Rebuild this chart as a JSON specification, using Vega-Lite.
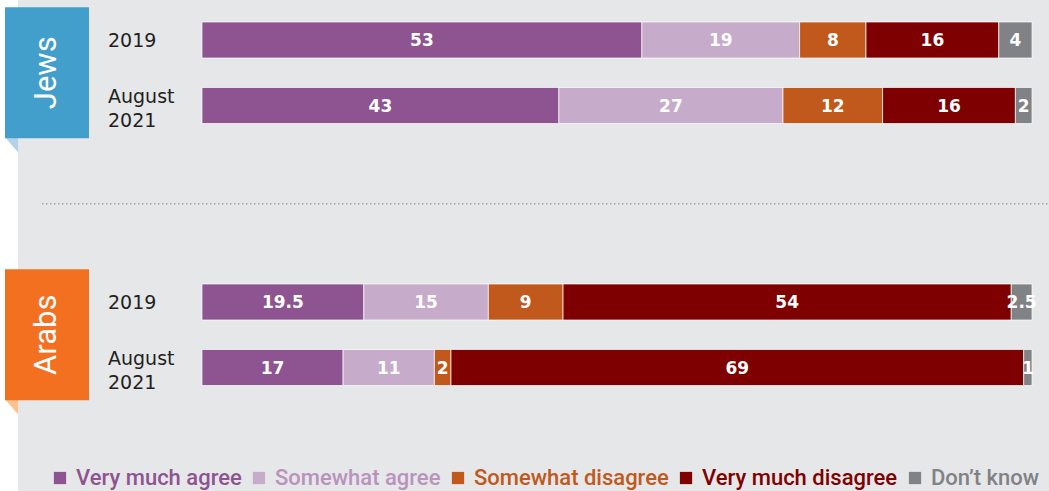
{
  "$schema": "https://vega.github.io/schema/vega-lite/v6.json",
  "width": 1049,
  "height": 491,
  "autosize": {"type": "fit", "contains": "padding"},
  "padding": 0,
  "background": "#e6e7e9",
  "config": {"view": {"stroke": null}},
  "data": {
    "values": [
      {"group": "Jews", "period": "2019", "answer": "Very much agree", "value": 53},
      {"group": "Jews", "period": "2019", "answer": "Somewhat agree", "value": 19},
      {"group": "Jews", "period": "2019", "answer": "Somewhat disagree", "value": 8},
      {"group": "Jews", "period": "2019", "answer": "Very much disagree", "value": 16},
      {"group": "Jews", "period": "2019", "answer": "Don’t know", "value": 4},
      {"group": "Jews", "period": "August 2021", "answer": "Very much agree", "value": 43},
      {"group": "Jews", "period": "August 2021", "answer": "Somewhat agree", "value": 27},
      {"group": "Jews", "period": "August 2021", "answer": "Somewhat disagree", "value": 12},
      {"group": "Jews", "period": "August 2021", "answer": "Very much disagree", "value": 16},
      {"group": "Jews", "period": "August 2021", "answer": "Don’t know", "value": 2},
      {"group": "Arabs", "period": "2019", "answer": "Very much agree", "value": 19.5},
      {"group": "Arabs", "period": "2019", "answer": "Somewhat agree", "value": 15},
      {"group": "Arabs", "period": "2019", "answer": "Somewhat disagree", "value": 9},
      {"group": "Arabs", "period": "2019", "answer": "Very much disagree", "value": 54},
      {"group": "Arabs", "period": "2019", "answer": "Don’t know", "value": 2.5},
      {"group": "Arabs", "period": "August 2021", "answer": "Very much agree", "value": 17},
      {"group": "Arabs", "period": "August 2021", "answer": "Somewhat agree", "value": 11},
      {"group": "Arabs", "period": "August 2021", "answer": "Somewhat disagree", "value": 2},
      {"group": "Arabs", "period": "August 2021", "answer": "Very much disagree", "value": 69},
      {"group": "Arabs", "period": "August 2021", "answer": "Don’t know", "value": 1}
    ]
  },
  "transform": [
    {"calculate": "indexof(['Very much agree','Somewhat agree','Somewhat disagree','Very much disagree','Don’t know'], datum.answer)", "as": "ord"},
    {"calculate": "datum.group + ' ' + datum.period", "as": "row"},
    {"stack": "value", "groupby": ["row"], "sort": [{"field": "ord", "order": "ascending"}], "as": ["v0", "v1"]},
    {"calculate": "(datum.v0 + datum.v1) / 2", "as": "mid"}
  ],
  "resolve": {"scale": {"y": "independent"}},
  "layer": [
    {
      "transform": [{"filter": "datum.row == 'Jews 2019' && datum.ord == 0"}],
      "mark": {"type": "rect", "color": "#ffffff"},
      "encoding": {
        "x": {"datum": -24.337, "type": "quantitative", "scale": {"domain": [-24.337, 102.048], "nice": false, "zero": false}, "axis": null},
        "x2": {"datum": -22.169}
      }
    },
    {
      "transform": [{"filter": "datum.period == '2019' && datum.ord == 0 && datum.group == 'Jews'"}],
      "mark": {"type": "point", "shape": "M -0.87 -1 L 0.87 -1 L 0.87 1 Z", "filled": true, "opacity": 1, "color": "#b4d3eb", "size": 225, "yOffset": 72},
      "encoding": {
        "x": {"datum": -22.95, "type": "quantitative"},
        "y": {"field": "group", "type": "nominal", "scale": {"domain": ["Jews", "gap", "Arabs"], "range": [7.25, 400.25], "paddingInner": 0, "paddingOuter": 0}, "axis": null}
      }
    },
    {
      "transform": [{"filter": "datum.period == '2019' && datum.ord == 0 && datum.group == 'Arabs'"}],
      "mark": {"type": "point", "shape": "M -0.87 -1 L 0.87 -1 L 0.87 1 Z", "filled": true, "opacity": 1, "color": "#fcc28f", "size": 225, "yOffset": 72},
      "encoding": {
        "x": {"datum": -22.95, "type": "quantitative"},
        "y": {"field": "group", "type": "nominal", "scale": {"domain": ["Jews", "gap", "Arabs"], "range": [7.25, 400.25], "paddingInner": 0, "paddingOuter": 0}, "axis": null}
      }
    },
    {
      "transform": [{"filter": "datum.period == '2019' && datum.ord == 0"}],
      "mark": {"type": "rect"},
      "encoding": {
        "x": {"datum": -23.735, "type": "quantitative"},
        "x2": {"datum": -13.614},
        "y": {"field": "group", "type": "nominal", "scale": {"domain": ["Jews", "gap", "Arabs"], "range": [7.25, 400.25], "paddingInner": 0, "paddingOuter": 0}, "axis": null},
        "fill": {"field": "group", "type": "nominal", "scale": {"domain": ["Jews", "Arabs"], "range": ["#429ecb", "#f37021"]}, "legend": null}
      }
    },
    {
      "transform": [{"filter": "datum.period == '2019' && datum.ord == 0"}],
      "mark": {"type": "text", "angle": 270, "align": "center", "baseline": "middle", "font": "Roboto", "fontSize": 31, "color": "#ffffff"},
      "encoding": {
        "x": {"datum": -18.675, "type": "quantitative"},
        "y": {"field": "group", "type": "nominal", "scale": {"domain": ["Jews", "gap", "Arabs"], "range": [7.25, 400.25], "paddingInner": 0, "paddingOuter": 0}, "axis": null},
        "text": {"field": "group", "type": "nominal"}
      }
    },
    {
      "transform": [{"filter": "datum.row == 'Jews 2019' && datum.ord == 0"}],
      "mark": {"type": "rule", "color": "#a4a6a9", "strokeWidth": 1.5, "strokeDash": [1.5, 2.5]},
      "encoding": {
        "x": {"datum": -19.28, "type": "quantitative"},
        "x2": {"datum": 101.9},
        "y": {"datum": "gap", "type": "nominal", "scale": {"domain": ["Jews", "gap", "Arabs"], "range": [7.25, 400.25], "paddingInner": 0, "paddingOuter": 0}, "axis": null}
      }
    },
    {
      "mark": {"type": "bar", "stroke": "#ffffff", "strokeWidth": 1, "strokeOpacity": 0.7},
      "encoding": {
        "x": {"field": "v0", "type": "quantitative"},
        "x2": {"field": "v1"},
        "y": {"field": "row", "type": "nominal", "scale": {"domain": ["Jews 2019", "Jews August 2021", "s1", "s2", "Arabs 2019", "Arabs August 2021"], "range": [7.25, 400.25], "paddingInner": 0.45, "paddingOuter": 0.225}, "axis": null},
        "color": {
          "field": "answer", "type": "nominal",
          "scale": {"domain": ["Very much agree", "Somewhat agree", "Somewhat disagree", "Very much disagree", "Don’t know"], "range": ["#8e5491", "#c7abca", "#c0591b", "#7f0000", "#808285"]},
          "legend": {
            "orient": "none", "legendX": 49, "legendY": 467, "direction": "horizontal", "title": null,
            "symbolType": "square", "symbolSize": 150, "symbolStrokeWidth": 0, "symbolOpacity": 1,
            "labelFont": "Roboto", "labelFontSize": 22, "labelFontWeight": 500, "labelOffset": 5, "columnPadding": 6, "labelLimit": 400,
            "labelColor": {"expr": "datum.value == 'Somewhat agree' ? '#b993bc' : scale('color', datum.value)"}
          }
        }
      }
    },
    {
      "mark": {"type": "text", "color": "#ffffff", "font": "DejaVu Sans", "fontWeight": "bold", "fontSize": 17, "align": "center", "baseline": "middle", "dy": 1},
      "encoding": {
        "x": {"field": "mid", "type": "quantitative"},
        "y": {"field": "row", "type": "nominal", "scale": {"domain": ["Jews 2019", "Jews August 2021", "s1", "s2", "Arabs 2019", "Arabs August 2021"], "range": [7.25, 400.25], "paddingInner": 0.45, "paddingOuter": 0.225}, "axis": null},
        "text": {"field": "value", "type": "nominal"}
      }
    },
    {
      "transform": [{"filter": "datum.ord == 0 && datum.period == '2019'"}],
      "mark": {"type": "text", "color": "#231f20", "font": "DejaVu Sans", "fontSize": 19, "align": "left", "baseline": "middle", "dy": 1},
      "encoding": {
        "x": {"datum": -11.325, "type": "quantitative"},
        "y": {"field": "row", "type": "nominal", "scale": {"domain": ["Jews 2019", "Jews August 2021", "s1", "s2", "Arabs 2019", "Arabs August 2021"], "range": [7.25, 400.25], "paddingInner": 0.45, "paddingOuter": 0.225}, "axis": null},
        "text": {"field": "period", "type": "nominal"}
      }
    },
    {
      "transform": [{"filter": "datum.ord == 0 && datum.period != '2019'"}],
      "mark": {"type": "text", "color": "#231f20", "font": "DejaVu Sans", "fontSize": 19, "align": "left", "baseline": "middle", "lineBreak": " ", "lineHeight": 24, "dy": -9},
      "encoding": {
        "x": {"datum": -11.325, "type": "quantitative"},
        "y": {"field": "row", "type": "nominal", "scale": {"domain": ["Jews 2019", "Jews August 2021", "s1", "s2", "Arabs 2019", "Arabs August 2021"], "range": [7.25, 400.25], "paddingInner": 0.45, "paddingOuter": 0.225}, "axis": null},
        "text": {"field": "period", "type": "nominal"}
      }
    }
  ]
}
